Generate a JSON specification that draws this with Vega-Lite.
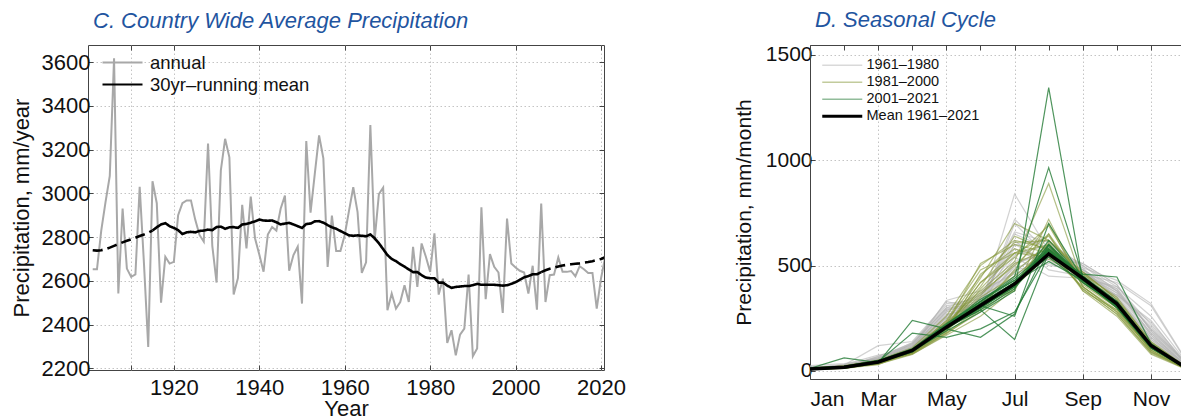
{
  "$schema": "https://vega.github.io/schema/vega-lite/v6.json",
  "padding": {"left": 9, "top": 8, "right": 0, "bottom": 0},
  "background": "white",
  "config": {
    "font": "Liberation Sans",
    "view": {"stroke": "#444", "strokeWidth": 1},
    "axis": {
      "labelFont": "Liberation Sans",
      "titleFont": "Liberation Sans",
      "labelColor": "#111",
      "titleColor": "#111",
      "titleFontWeight": "normal",
      "gridColor": "#c4c4c4",
      "gridDash": [1.5, 2.5],
      "gridWidth": 1,
      "tickColor": "#444",
      "domainColor": "#444",
      "tickSize": -5
    },
    "title": {
      "font": "Liberation Sans",
      "fontStyle": "italic",
      "fontWeight": "normal",
      "color": "#1f55a0",
      "fontSize": 22,
      "anchor": "start",
      "frame": "group",
      "dx": 5,
      "offset": 12
    },
    "legend": {
      "labelFont": "Liberation Sans",
      "labelColor": "#111",
      "padding": 0,
      "title": null
    }
  },
  "datasets": {
    "annual": [
      {"year": 1901, "precip": 2653}, {"year": 1902, "precip": 2653}, {"year": 1903, "precip": 2830}, {"year": 1904, "precip": 2960},
      {"year": 1905, "precip": 3080}, {"year": 1906, "precip": 3618}, {"year": 1907, "precip": 2542}, {"year": 1908, "precip": 2931},
      {"year": 1909, "precip": 2656}, {"year": 1910, "precip": 2618}, {"year": 1911, "precip": 2629}, {"year": 1912, "precip": 3030},
      {"year": 1913, "precip": 2680}, {"year": 1914, "precip": 2297}, {"year": 1915, "precip": 3056}, {"year": 1916, "precip": 2955},
      {"year": 1917, "precip": 2500}, {"year": 1918, "precip": 2710}, {"year": 1919, "precip": 2679}, {"year": 1920, "precip": 2687},
      {"year": 1921, "precip": 2900}, {"year": 1922, "precip": 2955}, {"year": 1923, "precip": 2968}, {"year": 1924, "precip": 2968},
      {"year": 1925, "precip": 2880}, {"year": 1926, "precip": 2810}, {"year": 1927, "precip": 2780}, {"year": 1928, "precip": 3228},
      {"year": 1929, "precip": 2760}, {"year": 1930, "precip": 2592}, {"year": 1931, "precip": 3105}, {"year": 1932, "precip": 3250},
      {"year": 1933, "precip": 3165}, {"year": 1934, "precip": 2538}, {"year": 1935, "precip": 2612}, {"year": 1936, "precip": 2948},
      {"year": 1937, "precip": 2748}, {"year": 1938, "precip": 2985}, {"year": 1939, "precip": 2795}, {"year": 1940, "precip": 2720},
      {"year": 1941, "precip": 2642}, {"year": 1942, "precip": 2812}, {"year": 1943, "precip": 2846}, {"year": 1944, "precip": 2830},
      {"year": 1945, "precip": 2930}, {"year": 1946, "precip": 2990}, {"year": 1947, "precip": 2646}, {"year": 1948, "precip": 2718},
      {"year": 1949, "precip": 2756}, {"year": 1950, "precip": 2496}, {"year": 1951, "precip": 3240}, {"year": 1952, "precip": 2912},
      {"year": 1953, "precip": 3090}, {"year": 1954, "precip": 3265}, {"year": 1955, "precip": 3160}, {"year": 1956, "precip": 2664},
      {"year": 1957, "precip": 2898}, {"year": 1958, "precip": 2736}, {"year": 1959, "precip": 2736}, {"year": 1960, "precip": 2810},
      {"year": 1961, "precip": 2920}, {"year": 1962, "precip": 3028}, {"year": 1963, "precip": 2916}, {"year": 1964, "precip": 2636},
      {"year": 1965, "precip": 2685}, {"year": 1966, "precip": 3313}, {"year": 1967, "precip": 2786}, {"year": 1968, "precip": 2997},
      {"year": 1969, "precip": 3026}, {"year": 1970, "precip": 2465}, {"year": 1971, "precip": 2542}, {"year": 1972, "precip": 2473},
      {"year": 1973, "precip": 2503}, {"year": 1974, "precip": 2580}, {"year": 1975, "precip": 2503}, {"year": 1976, "precip": 2756},
      {"year": 1977, "precip": 2572}, {"year": 1978, "precip": 2771}, {"year": 1979, "precip": 2710}, {"year": 1980, "precip": 2641},
      {"year": 1981, "precip": 2817}, {"year": 1982, "precip": 2537}, {"year": 1983, "precip": 2610}, {"year": 1984, "precip": 2316},
      {"year": 1985, "precip": 2374}, {"year": 1986, "precip": 2259}, {"year": 1987, "precip": 2354}, {"year": 1988, "precip": 2381},
      {"year": 1989, "precip": 2629}, {"year": 1990, "precip": 2255}, {"year": 1991, "precip": 2290}, {"year": 1992, "precip": 2936},
      {"year": 1993, "precip": 2516}, {"year": 1994, "precip": 2722}, {"year": 1995, "precip": 2664}, {"year": 1996, "precip": 2638},
      {"year": 1997, "precip": 2453}, {"year": 1998, "precip": 2885}, {"year": 1999, "precip": 2679}, {"year": 2000, "precip": 2661},
      {"year": 2001, "precip": 2646}, {"year": 2002, "precip": 2638}, {"year": 2003, "precip": 2542}, {"year": 2004, "precip": 2669},
      {"year": 2005, "precip": 2468}, {"year": 2006, "precip": 2954}, {"year": 2007, "precip": 2503}, {"year": 2008, "precip": 2626},
      {"year": 2009, "precip": 2629}, {"year": 2010, "precip": 2707}, {"year": 2011, "precip": 2641}, {"year": 2012, "precip": 2641},
      {"year": 2013, "precip": 2645}, {"year": 2014, "precip": 2621}, {"year": 2015, "precip": 2667}, {"year": 2016, "precip": 2653},
      {"year": 2017, "precip": 2636}, {"year": 2018, "precip": 2636}, {"year": 2019, "precip": 2473}, {"year": 2020, "precip": 2611},
      {"year": 2021, "precip": 2710}
    ],
    "runmean": [
      {"year": 1901, "precip": 2740, "seg": "start"}, {"year": 1902, "precip": 2738, "seg": "start"}, {"year": 1903, "precip": 2740, "seg": "start"},
      {"year": 1904, "precip": 2745, "seg": "start"}, {"year": 1905, "precip": 2752, "seg": "start"}, {"year": 1906, "precip": 2760, "seg": "start"},
      {"year": 1907, "precip": 2768, "seg": "start"}, {"year": 1908, "precip": 2776, "seg": "start"}, {"year": 1909, "precip": 2783, "seg": "start"},
      {"year": 1910, "precip": 2790, "seg": "start"}, {"year": 1911, "precip": 2797, "seg": "start"}, {"year": 1912, "precip": 2805, "seg": "start"},
      {"year": 1913, "precip": 2812, "seg": "start"}, {"year": 1914, "precip": 2820, "seg": "start"}, {"year": 1915, "precip": 2830, "seg": "start"},
      {"year": 1915, "precip": 2830, "seg": "full"}, {"year": 1916, "precip": 2845, "seg": "full"}, {"year": 1917, "precip": 2858, "seg": "full"},
      {"year": 1918, "precip": 2864, "seg": "full"}, {"year": 1919, "precip": 2850, "seg": "full"}, {"year": 1920, "precip": 2842, "seg": "full"},
      {"year": 1921, "precip": 2832, "seg": "full"}, {"year": 1922, "precip": 2814, "seg": "full"}, {"year": 1923, "precip": 2822, "seg": "full"},
      {"year": 1924, "precip": 2824, "seg": "full"}, {"year": 1925, "precip": 2822, "seg": "full"}, {"year": 1926, "precip": 2828, "seg": "full"},
      {"year": 1927, "precip": 2830, "seg": "full"}, {"year": 1928, "precip": 2834, "seg": "full"}, {"year": 1929, "precip": 2832, "seg": "full"},
      {"year": 1930, "precip": 2846, "seg": "full"}, {"year": 1931, "precip": 2848, "seg": "full"}, {"year": 1932, "precip": 2838, "seg": "full"},
      {"year": 1933, "precip": 2845, "seg": "full"}, {"year": 1934, "precip": 2846, "seg": "full"}, {"year": 1935, "precip": 2842, "seg": "full"},
      {"year": 1936, "precip": 2858, "seg": "full"}, {"year": 1937, "precip": 2860, "seg": "full"}, {"year": 1938, "precip": 2866, "seg": "full"},
      {"year": 1939, "precip": 2872, "seg": "full"}, {"year": 1940, "precip": 2880, "seg": "full"}, {"year": 1941, "precip": 2876, "seg": "full"},
      {"year": 1942, "precip": 2875, "seg": "full"}, {"year": 1943, "precip": 2876, "seg": "full"}, {"year": 1944, "precip": 2868, "seg": "full"},
      {"year": 1945, "precip": 2858, "seg": "full"}, {"year": 1946, "precip": 2862, "seg": "full"}, {"year": 1947, "precip": 2865, "seg": "full"},
      {"year": 1948, "precip": 2858, "seg": "full"}, {"year": 1949, "precip": 2850, "seg": "full"}, {"year": 1950, "precip": 2842, "seg": "full"},
      {"year": 1951, "precip": 2860, "seg": "full"}, {"year": 1952, "precip": 2862, "seg": "full"}, {"year": 1953, "precip": 2872, "seg": "full"},
      {"year": 1954, "precip": 2873, "seg": "full"}, {"year": 1955, "precip": 2866, "seg": "full"}, {"year": 1956, "precip": 2855, "seg": "full"},
      {"year": 1957, "precip": 2845, "seg": "full"}, {"year": 1958, "precip": 2838, "seg": "full"}, {"year": 1959, "precip": 2828, "seg": "full"},
      {"year": 1960, "precip": 2818, "seg": "full"}, {"year": 1961, "precip": 2808, "seg": "full"}, {"year": 1962, "precip": 2806, "seg": "full"},
      {"year": 1963, "precip": 2808, "seg": "full"}, {"year": 1964, "precip": 2806, "seg": "full"}, {"year": 1965, "precip": 2804, "seg": "full"},
      {"year": 1966, "precip": 2812, "seg": "full"}, {"year": 1967, "precip": 2795, "seg": "full"}, {"year": 1968, "precip": 2772, "seg": "full"},
      {"year": 1969, "precip": 2745, "seg": "full"}, {"year": 1970, "precip": 2718, "seg": "full"}, {"year": 1971, "precip": 2700, "seg": "full"},
      {"year": 1972, "precip": 2690, "seg": "full"}, {"year": 1973, "precip": 2676, "seg": "full"}, {"year": 1974, "precip": 2665, "seg": "full"},
      {"year": 1975, "precip": 2652, "seg": "full"}, {"year": 1976, "precip": 2640, "seg": "full"}, {"year": 1977, "precip": 2640, "seg": "full"},
      {"year": 1978, "precip": 2626, "seg": "full"}, {"year": 1979, "precip": 2615, "seg": "full"}, {"year": 1980, "precip": 2612, "seg": "full"},
      {"year": 1981, "precip": 2612, "seg": "full"}, {"year": 1982, "precip": 2592, "seg": "full"}, {"year": 1983, "precip": 2592, "seg": "full"},
      {"year": 1984, "precip": 2578, "seg": "full"}, {"year": 1985, "precip": 2568, "seg": "full"}, {"year": 1986, "precip": 2572, "seg": "full"},
      {"year": 1987, "precip": 2574, "seg": "full"}, {"year": 1988, "precip": 2576, "seg": "full"}, {"year": 1989, "precip": 2576, "seg": "full"},
      {"year": 1990, "precip": 2580, "seg": "full"}, {"year": 1991, "precip": 2586, "seg": "full"}, {"year": 1992, "precip": 2582, "seg": "full"},
      {"year": 1993, "precip": 2582, "seg": "full"}, {"year": 1994, "precip": 2582, "seg": "full"}, {"year": 1995, "precip": 2582, "seg": "full"},
      {"year": 1996, "precip": 2580, "seg": "full"}, {"year": 1997, "precip": 2578, "seg": "full"}, {"year": 1998, "precip": 2580, "seg": "full"},
      {"year": 1999, "precip": 2586, "seg": "full"}, {"year": 2000, "precip": 2594, "seg": "full"}, {"year": 2001, "precip": 2605, "seg": "full"},
      {"year": 2002, "precip": 2616, "seg": "full"}, {"year": 2003, "precip": 2622, "seg": "full"}, {"year": 2004, "precip": 2630, "seg": "full"},
      {"year": 2005, "precip": 2630, "seg": "full"}, {"year": 2006, "precip": 2640, "seg": "full"},
      {"year": 2006, "precip": 2640, "seg": "end"}, {"year": 2007, "precip": 2648, "seg": "end"}, {"year": 2008, "precip": 2655, "seg": "end"},
      {"year": 2009, "precip": 2660, "seg": "end"}, {"year": 2010, "precip": 2666, "seg": "end"}, {"year": 2011, "precip": 2670, "seg": "end"},
      {"year": 2012, "precip": 2673, "seg": "end"}, {"year": 2013, "precip": 2676, "seg": "end"}, {"year": 2014, "precip": 2678, "seg": "end"},
      {"year": 2015, "precip": 2680, "seg": "end"}, {"year": 2016, "precip": 2683, "seg": "end"}, {"year": 2017, "precip": 2686, "seg": "end"},
      {"year": 2018, "precip": 2690, "seg": "end"}, {"year": 2019, "precip": 2695, "seg": "end"}, {"year": 2020, "precip": 2700, "seg": "end"},
      {"year": 2021, "precip": 2708, "seg": "end"}
    ],
    "p1": [
      {"yr":1961,"m":1,"v":12},{"yr":1961,"m":2,"v":20},{"yr":1961,"m":3,"v":55},{"yr":1961,"m":4,"v":110},{"yr":1961,"m":5,"v":250},{"yr":1961,"m":6,"v":330},{"yr":1961,"m":7,"v":520},{"yr":1961,"m":8,"v":560},{"yr":1961,"m":9,"v":480},{"yr":1961,"m":10,"v":380},{"yr":1961,"m":11,"v":180},{"yr":1961,"m":12,"v":30},
      {"yr":1962,"m":1,"v":8},{"yr":1962,"m":2,"v":15},{"yr":1962,"m":3,"v":40},{"yr":1962,"m":4,"v":105},{"yr":1962,"m":5,"v":230},{"yr":1962,"m":6,"v":350},{"yr":1962,"m":7,"v":600},{"yr":1962,"m":8,"v":520},{"yr":1962,"m":9,"v":470},{"yr":1962,"m":10,"v":360},{"yr":1962,"m":11,"v":160},{"yr":1962,"m":12,"v":25},
      {"yr":1963,"m":1,"v":15},{"yr":1963,"m":2,"v":25},{"yr":1963,"m":3,"v":60},{"yr":1963,"m":4,"v":120},{"yr":1963,"m":5,"v":280},{"yr":1963,"m":6,"v":300},{"yr":1963,"m":7,"v":450},{"yr":1963,"m":8,"v":580},{"yr":1963,"m":9,"v":500},{"yr":1963,"m":10,"v":400},{"yr":1963,"m":11,"v":220},{"yr":1963,"m":12,"v":40},
      {"yr":1964,"m":1,"v":10},{"yr":1964,"m":2,"v":30},{"yr":1964,"m":3,"v":50},{"yr":1964,"m":4,"v":95},{"yr":1964,"m":5,"v":240},{"yr":1964,"m":6,"v":280},{"yr":1964,"m":7,"v":700},{"yr":1964,"m":8,"v":540},{"yr":1964,"m":9,"v":430},{"yr":1964,"m":10,"v":350},{"yr":1964,"m":11,"v":150},{"yr":1964,"m":12,"v":20},
      {"yr":1965,"m":1,"v":20},{"yr":1965,"m":2,"v":18},{"yr":1965,"m":3,"v":45},{"yr":1965,"m":4,"v":130},{"yr":1965,"m":5,"v":300},{"yr":1965,"m":6,"v":320},{"yr":1965,"m":7,"v":480},{"yr":1965,"m":8,"v":510},{"yr":1965,"m":9,"v":460},{"yr":1965,"m":10,"v":420},{"yr":1965,"m":11,"v":310},{"yr":1965,"m":12,"v":55},
      {"yr":1966,"m":1,"v":5},{"yr":1966,"m":2,"v":22},{"yr":1966,"m":3,"v":65},{"yr":1966,"m":4,"v":100},{"yr":1966,"m":5,"v":260},{"yr":1966,"m":6,"v":360},{"yr":1966,"m":7,"v":550},{"yr":1966,"m":8,"v":600},{"yr":1966,"m":9,"v":490},{"yr":1966,"m":10,"v":330},{"yr":1966,"m":11,"v":140},{"yr":1966,"m":12,"v":30},
      {"yr":1967,"m":1,"v":12},{"yr":1967,"m":2,"v":28},{"yr":1967,"m":3,"v":120},{"yr":1967,"m":4,"v":140},{"yr":1967,"m":5,"v":320},{"yr":1967,"m":6,"v":340},{"yr":1967,"m":7,"v":620},{"yr":1967,"m":8,"v":480},{"yr":1967,"m":9,"v":450},{"yr":1967,"m":10,"v":390},{"yr":1967,"m":11,"v":200},{"yr":1967,"m":12,"v":45},
      {"yr":1968,"m":1,"v":18},{"yr":1968,"m":2,"v":15},{"yr":1968,"m":3,"v":50},{"yr":1968,"m":4,"v":115},{"yr":1968,"m":5,"v":270},{"yr":1968,"m":6,"v":300},{"yr":1968,"m":7,"v":840},{"yr":1968,"m":8,"v":570},{"yr":1968,"m":9,"v":470},{"yr":1968,"m":10,"v":370},{"yr":1968,"m":11,"v":170},{"yr":1968,"m":12,"v":30},
      {"yr":1969,"m":1,"v":10},{"yr":1969,"m":2,"v":20},{"yr":1969,"m":3,"v":70},{"yr":1969,"m":4,"v":125},{"yr":1969,"m":5,"v":290},{"yr":1969,"m":6,"v":310},{"yr":1969,"m":7,"v":500},{"yr":1969,"m":8,"v":590},{"yr":1969,"m":9,"v":420},{"yr":1969,"m":10,"v":360},{"yr":1969,"m":11,"v":240},{"yr":1969,"m":12,"v":35},
      {"yr":1970,"m":1,"v":25},{"yr":1970,"m":2,"v":35},{"yr":1970,"m":3,"v":55},{"yr":1970,"m":4,"v":105},{"yr":1970,"m":5,"v":335},{"yr":1970,"m":6,"v":380},{"yr":1970,"m":7,"v":460},{"yr":1970,"m":8,"v":530},{"yr":1970,"m":9,"v":510},{"yr":1970,"m":10,"v":410},{"yr":1970,"m":11,"v":190},{"yr":1970,"m":12,"v":40},
      {"yr":1971,"m":1,"v":8},{"yr":1971,"m":2,"v":12},{"yr":1971,"m":3,"v":48},{"yr":1971,"m":4,"v":110},{"yr":1971,"m":5,"v":250},{"yr":1971,"m":6,"v":290},{"yr":1971,"m":7,"v":720},{"yr":1971,"m":8,"v":560},{"yr":1971,"m":9,"v":480},{"yr":1971,"m":10,"v":350},{"yr":1971,"m":11,"v":160},{"yr":1971,"m":12,"v":25},
      {"yr":1972,"m":1,"v":14},{"yr":1972,"m":2,"v":25},{"yr":1972,"m":3,"v":60},{"yr":1972,"m":4,"v":135},{"yr":1972,"m":5,"v":310},{"yr":1972,"m":6,"v":330},{"yr":1972,"m":7,"v":540},{"yr":1972,"m":8,"v":450},{"yr":1972,"m":9,"v":440},{"yr":1972,"m":10,"v":400},{"yr":1972,"m":11,"v":260},{"yr":1972,"m":12,"v":50},
      {"yr":1973,"m":1,"v":9},{"yr":1973,"m":2,"v":18},{"yr":1973,"m":3,"v":52},{"yr":1973,"m":4,"v":118},{"yr":1973,"m":5,"v":280},{"yr":1973,"m":6,"v":350},{"yr":1973,"m":7,"v":660},{"yr":1973,"m":8,"v":610},{"yr":1973,"m":9,"v":500},{"yr":1973,"m":10,"v":380},{"yr":1973,"m":11,"v":180},{"yr":1973,"m":12,"v":30},
      {"yr":1974,"m":1,"v":16},{"yr":1974,"m":2,"v":30},{"yr":1974,"m":3,"v":75},{"yr":1974,"m":4,"v":100},{"yr":1974,"m":5,"v":240},{"yr":1974,"m":6,"v":300},{"yr":1974,"m":7,"v":420},{"yr":1974,"m":8,"v":580},{"yr":1974,"m":9,"v":470},{"yr":1974,"m":10,"v":340},{"yr":1974,"m":11,"v":150},{"yr":1974,"m":12,"v":35},
      {"yr":1975,"m":1,"v":11},{"yr":1975,"m":2,"v":20},{"yr":1975,"m":3,"v":58},{"yr":1975,"m":4,"v":128},{"yr":1975,"m":5,"v":300},{"yr":1975,"m":6,"v":360},{"yr":1975,"m":7,"v":580},{"yr":1975,"m":8,"v":500},{"yr":1975,"m":9,"v":490},{"yr":1975,"m":10,"v":430},{"yr":1975,"m":11,"v":320},{"yr":1975,"m":12,"v":60},
      {"yr":1976,"m":1,"v":20},{"yr":1976,"m":2,"v":15},{"yr":1976,"m":3,"v":45},{"yr":1976,"m":4,"v":112},{"yr":1976,"m":5,"v":265},{"yr":1976,"m":6,"v":310},{"yr":1976,"m":7,"v":510},{"yr":1976,"m":8,"v":560},{"yr":1976,"m":9,"v":460},{"yr":1976,"m":10,"v":370},{"yr":1976,"m":11,"v":210},{"yr":1976,"m":12,"v":40},
      {"yr":1977,"m":1,"v":7},{"yr":1977,"m":2,"v":26},{"yr":1977,"m":3,"v":62},{"yr":1977,"m":4,"v":122},{"yr":1977,"m":5,"v":330},{"yr":1977,"m":6,"v":290},{"yr":1977,"m":7,"v":600},{"yr":1977,"m":8,"v":620},{"yr":1977,"m":9,"v":480},{"yr":1977,"m":10,"v":390},{"yr":1977,"m":11,"v":170},{"yr":1977,"m":12,"v":30},
      {"yr":1978,"m":1,"v":13},{"yr":1978,"m":2,"v":22},{"yr":1978,"m":3,"v":55},{"yr":1978,"m":4,"v":108},{"yr":1978,"m":5,"v":255},{"yr":1978,"m":6,"v":340},{"yr":1978,"m":7,"v":490},{"yr":1978,"m":8,"v":540},{"yr":1978,"m":9,"v":450},{"yr":1978,"m":10,"v":360},{"yr":1978,"m":11,"v":230},{"yr":1978,"m":12,"v":45},
      {"yr":1979,"m":1,"v":10},{"yr":1979,"m":2,"v":18},{"yr":1979,"m":3,"v":68},{"yr":1979,"m":4,"v":132},{"yr":1979,"m":5,"v":295},{"yr":1979,"m":6,"v":320},{"yr":1979,"m":7,"v":650},{"yr":1979,"m":8,"v":580},{"yr":1979,"m":9,"v":510},{"yr":1979,"m":10,"v":410},{"yr":1979,"m":11,"v":190},{"yr":1979,"m":12,"v":35},
      {"yr":1980,"m":1,"v":15},{"yr":1980,"m":2,"v":24},{"yr":1980,"m":3,"v":50},{"yr":1980,"m":4,"v":115},{"yr":1980,"m":5,"v":285},{"yr":1980,"m":6,"v":370},{"yr":1980,"m":7,"v":470},{"yr":1980,"m":8,"v":600},{"yr":1980,"m":9,"v":470},{"yr":1980,"m":10,"v":380},{"yr":1980,"m":11,"v":200},{"yr":1980,"m":12,"v":40}
    ],
    "p2": [
      {"yr":1981,"m":1,"v":8},{"yr":1981,"m":2,"v":15},{"yr":1981,"m":3,"v":35},{"yr":1981,"m":4,"v":90},{"yr":1981,"m":5,"v":200},{"yr":1981,"m":6,"v":420},{"yr":1981,"m":7,"v":560},{"yr":1981,"m":8,"v":600},{"yr":1981,"m":9,"v":430},{"yr":1981,"m":10,"v":300},{"yr":1981,"m":11,"v":110},{"yr":1981,"m":12,"v":15},
      {"yr":1982,"m":1,"v":12},{"yr":1982,"m":2,"v":20},{"yr":1982,"m":3,"v":40},{"yr":1982,"m":4,"v":85},{"yr":1982,"m":5,"v":180},{"yr":1982,"m":6,"v":300},{"yr":1982,"m":7,"v":480},{"yr":1982,"m":8,"v":700},{"yr":1982,"m":9,"v":400},{"yr":1982,"m":10,"v":280},{"yr":1982,"m":11,"v":90},{"yr":1982,"m":12,"v":12},
      {"yr":1983,"m":1,"v":6},{"yr":1983,"m":2,"v":12},{"yr":1983,"m":3,"v":30},{"yr":1983,"m":4,"v":95},{"yr":1983,"m":5,"v":220},{"yr":1983,"m":6,"v":510},{"yr":1983,"m":7,"v":600},{"yr":1983,"m":8,"v":560},{"yr":1983,"m":9,"v":450},{"yr":1983,"m":10,"v":320},{"yr":1983,"m":11,"v":120},{"yr":1983,"m":12,"v":18},
      {"yr":1984,"m":1,"v":10},{"yr":1984,"m":2,"v":18},{"yr":1984,"m":3,"v":45},{"yr":1984,"m":4,"v":80},{"yr":1984,"m":5,"v":170},{"yr":1984,"m":6,"v":260},{"yr":1984,"m":7,"v":390},{"yr":1984,"m":8,"v":650},{"yr":1984,"m":9,"v":380},{"yr":1984,"m":10,"v":290},{"yr":1984,"m":11,"v":100},{"yr":1984,"m":12,"v":10},
      {"yr":1985,"m":1,"v":14},{"yr":1985,"m":2,"v":22},{"yr":1985,"m":3,"v":38},{"yr":1985,"m":4,"v":100},{"yr":1985,"m":5,"v":230},{"yr":1985,"m":6,"v":380},{"yr":1985,"m":7,"v":520},{"yr":1985,"m":8,"v":890},{"yr":1985,"m":9,"v":420},{"yr":1985,"m":10,"v":310},{"yr":1985,"m":11,"v":130},{"yr":1985,"m":12,"v":20},
      {"yr":1986,"m":1,"v":9},{"yr":1986,"m":2,"v":16},{"yr":1986,"m":3,"v":42},{"yr":1986,"m":4,"v":92},{"yr":1986,"m":5,"v":210},{"yr":1986,"m":6,"v":440},{"yr":1986,"m":7,"v":700},{"yr":1986,"m":8,"v":620},{"yr":1986,"m":9,"v":460},{"yr":1986,"m":10,"v":330},{"yr":1986,"m":11,"v":115},{"yr":1986,"m":12,"v":15},
      {"yr":1987,"m":1,"v":11},{"yr":1987,"m":2,"v":14},{"yr":1987,"m":3,"v":36},{"yr":1987,"m":4,"v":88},{"yr":1987,"m":5,"v":190},{"yr":1987,"m":6,"v":350},{"yr":1987,"m":7,"v":450},{"yr":1987,"m":8,"v":580},{"yr":1987,"m":9,"v":390},{"yr":1987,"m":10,"v":270},{"yr":1987,"m":11,"v":85},{"yr":1987,"m":12,"v":12},
      {"yr":1988,"m":1,"v":7},{"yr":1988,"m":2,"v":20},{"yr":1988,"m":3,"v":48},{"yr":1988,"m":4,"v":105},{"yr":1988,"m":5,"v":240},{"yr":1988,"m":6,"v":480},{"yr":1988,"m":7,"v":560},{"yr":1988,"m":8,"v":540},{"yr":1988,"m":9,"v":470},{"yr":1988,"m":10,"v":340},{"yr":1988,"m":11,"v":140},{"yr":1988,"m":12,"v":22},
      {"yr":1989,"m":1,"v":13},{"yr":1989,"m":2,"v":18},{"yr":1989,"m":3,"v":33},{"yr":1989,"m":4,"v":78},{"yr":1989,"m":5,"v":175},{"yr":1989,"m":6,"v":290},{"yr":1989,"m":7,"v":420},{"yr":1989,"m":8,"v":610},{"yr":1989,"m":9,"v":410},{"yr":1989,"m":10,"v":300},{"yr":1989,"m":11,"v":95},{"yr":1989,"m":12,"v":14},
      {"yr":1990,"m":1,"v":10},{"yr":1990,"m":2,"v":25},{"yr":1990,"m":3,"v":50},{"yr":1990,"m":4,"v":98},{"yr":1990,"m":5,"v":215},{"yr":1990,"m":6,"v":400},{"yr":1990,"m":7,"v":640},{"yr":1990,"m":8,"v":570},{"yr":1990,"m":9,"v":440},{"yr":1990,"m":10,"v":320},{"yr":1990,"m":11,"v":125},{"yr":1990,"m":12,"v":18},
      {"yr":1991,"m":1,"v":8},{"yr":1991,"m":2,"v":12},{"yr":1991,"m":3,"v":40},{"yr":1991,"m":4,"v":90},{"yr":1991,"m":5,"v":200},{"yr":1991,"m":6,"v":330},{"yr":1991,"m":7,"v":380},{"yr":1991,"m":8,"v":720},{"yr":1991,"m":9,"v":400},{"yr":1991,"m":10,"v":280},{"yr":1991,"m":11,"v":105},{"yr":1991,"m":12,"v":16},
      {"yr":1992,"m":1,"v":12},{"yr":1992,"m":2,"v":16},{"yr":1992,"m":3,"v":44},{"yr":1992,"m":4,"v":84},{"yr":1992,"m":5,"v":185},{"yr":1992,"m":6,"v":460},{"yr":1992,"m":7,"v":580},{"yr":1992,"m":8,"v":530},{"yr":1992,"m":9,"v":450},{"yr":1992,"m":10,"v":310},{"yr":1992,"m":11,"v":110},{"yr":1992,"m":12,"v":12},
      {"yr":1993,"m":1,"v":6},{"yr":1993,"m":2,"v":18},{"yr":1993,"m":3,"v":35},{"yr":1993,"m":4,"v":96},{"yr":1993,"m":5,"v":225},{"yr":1993,"m":6,"v":370},{"yr":1993,"m":7,"v":500},{"yr":1993,"m":8,"v":650},{"yr":1993,"m":9,"v":430},{"yr":1993,"m":10,"v":330},{"yr":1993,"m":11,"v":120},{"yr":1993,"m":12,"v":20},
      {"yr":1994,"m":1,"v":15},{"yr":1994,"m":2,"v":22},{"yr":1994,"m":3,"v":52},{"yr":1994,"m":4,"v":110},{"yr":1994,"m":5,"v":260},{"yr":1994,"m":6,"v":500},{"yr":1994,"m":7,"v":620},{"yr":1994,"m":8,"v":580},{"yr":1994,"m":9,"v":460},{"yr":1994,"m":10,"v":350},{"yr":1994,"m":11,"v":135},{"yr":1994,"m":12,"v":24},
      {"yr":1995,"m":1,"v":9},{"yr":1995,"m":2,"v":14},{"yr":1995,"m":3,"v":38},{"yr":1995,"m":4,"v":86},{"yr":1995,"m":5,"v":195},{"yr":1995,"m":6,"v":310},{"yr":1995,"m":7,"v":470},{"yr":1995,"m":8,"v":600},{"yr":1995,"m":9,"v":380},{"yr":1995,"m":10,"v":260},{"yr":1995,"m":11,"v":80},{"yr":1995,"m":12,"v":10},
      {"yr":1996,"m":1,"v":11},{"yr":1996,"m":2,"v":20},{"yr":1996,"m":3,"v":46},{"yr":1996,"m":4,"v":94},{"yr":1996,"m":5,"v":205},{"yr":1996,"m":6,"v":420},{"yr":1996,"m":7,"v":540},{"yr":1996,"m":8,"v":690},{"yr":1996,"m":9,"v":420},{"yr":1996,"m":10,"v":300},{"yr":1996,"m":11,"v":115},{"yr":1996,"m":12,"v":15},
      {"yr":1997,"m":1,"v":7},{"yr":1997,"m":2,"v":16},{"yr":1997,"m":3,"v":34},{"yr":1997,"m":4,"v":82},{"yr":1997,"m":5,"v":180},{"yr":1997,"m":6,"v":280},{"yr":1997,"m":7,"v":400},{"yr":1997,"m":8,"v":550},{"yr":1997,"m":9,"v":400},{"yr":1997,"m":10,"v":290},{"yr":1997,"m":11,"v":100},{"yr":1997,"m":12,"v":12},
      {"yr":1998,"m":1,"v":13},{"yr":1998,"m":2,"v":24},{"yr":1998,"m":3,"v":48},{"yr":1998,"m":4,"v":102},{"yr":1998,"m":5,"v":235},{"yr":1998,"m":6,"v":450},{"yr":1998,"m":7,"v":610},{"yr":1998,"m":8,"v":620},{"yr":1998,"m":9,"v":470},{"yr":1998,"m":10,"v":340},{"yr":1998,"m":11,"v":130},{"yr":1998,"m":12,"v":20},
      {"yr":1999,"m":1,"v":10},{"yr":1999,"m":2,"v":18},{"yr":1999,"m":3,"v":42},{"yr":1999,"m":4,"v":92},{"yr":1999,"m":5,"v":210},{"yr":1999,"m":6,"v":360},{"yr":1999,"m":7,"v":510},{"yr":1999,"m":8,"v":580},{"yr":1999,"m":9,"v":390},{"yr":1999,"m":10,"v":270},{"yr":1999,"m":11,"v":90},{"yr":1999,"m":12,"v":14},
      {"yr":2000,"m":1,"v":8},{"yr":2000,"m":2,"v":14},{"yr":2000,"m":3,"v":36},{"yr":2000,"m":4,"v":88},{"yr":2000,"m":5,"v":195},{"yr":2000,"m":6,"v":390},{"yr":2000,"m":7,"v":560},{"yr":2000,"m":8,"v":640},{"yr":2000,"m":9,"v":430},{"yr":2000,"m":10,"v":310},{"yr":2000,"m":11,"v":110},{"yr":2000,"m":12,"v":16}
    ],
    "p3": [
      {"yr":2001,"m":1,"v":10},{"yr":2001,"m":2,"v":20},{"yr":2001,"m":3,"v":45},{"yr":2001,"m":4,"v":100},{"yr":2001,"m":5,"v":210},{"yr":2001,"m":6,"v":300},{"yr":2001,"m":7,"v":400},{"yr":2001,"m":8,"v":560},{"yr":2001,"m":9,"v":440},{"yr":2001,"m":10,"v":320},{"yr":2001,"m":11,"v":120},{"yr":2001,"m":12,"v":18},
      {"yr":2002,"m":1,"v":12},{"yr":2002,"m":2,"v":62},{"yr":2002,"m":3,"v":40},{"yr":2002,"m":4,"v":95},{"yr":2002,"m":5,"v":190},{"yr":2002,"m":6,"v":280},{"yr":2002,"m":7,"v":380},{"yr":2002,"m":8,"v":1345},{"yr":2002,"m":9,"v":430},{"yr":2002,"m":10,"v":300},{"yr":2002,"m":11,"v":110},{"yr":2002,"m":12,"v":15},
      {"yr":2003,"m":1,"v":8},{"yr":2003,"m":2,"v":15},{"yr":2003,"m":3,"v":38},{"yr":2003,"m":4,"v":240},{"yr":2003,"m":5,"v":200},{"yr":2003,"m":6,"v":160},{"yr":2003,"m":7,"v":270},{"yr":2003,"m":8,"v":600},{"yr":2003,"m":9,"v":420},{"yr":2003,"m":10,"v":310},{"yr":2003,"m":11,"v":115},{"yr":2003,"m":12,"v":16},
      {"yr":2004,"m":1,"v":14},{"yr":2004,"m":2,"v":22},{"yr":2004,"m":3,"v":50},{"yr":2004,"m":4,"v":105},{"yr":2004,"m":5,"v":225},{"yr":2004,"m":6,"v":330},{"yr":2004,"m":7,"v":450},{"yr":2004,"m":8,"v":965},{"yr":2004,"m":9,"v":450},{"yr":2004,"m":10,"v":330},{"yr":2004,"m":11,"v":125},{"yr":2004,"m":12,"v":20},
      {"yr":2005,"m":1,"v":9},{"yr":2005,"m":2,"v":18},{"yr":2005,"m":3,"v":42},{"yr":2005,"m":4,"v":90},{"yr":2005,"m":5,"v":205},{"yr":2005,"m":6,"v":290},{"yr":2005,"m":7,"v":150},{"yr":2005,"m":8,"v":560},{"yr":2005,"m":9,"v":460},{"yr":2005,"m":10,"v":446},{"yr":2005,"m":11,"v":130},{"yr":2005,"m":12,"v":18},
      {"yr":2006,"m":1,"v":11},{"yr":2006,"m":2,"v":16},{"yr":2006,"m":3,"v":44},{"yr":2006,"m":4,"v":98},{"yr":2006,"m":5,"v":215},{"yr":2006,"m":6,"v":320},{"yr":2006,"m":7,"v":420},{"yr":2006,"m":8,"v":520},{"yr":2006,"m":9,"v":430},{"yr":2006,"m":10,"v":310},{"yr":2006,"m":11,"v":115},{"yr":2006,"m":12,"v":15},
      {"yr":2007,"m":1,"v":10},{"yr":2007,"m":2,"v":20},{"yr":2007,"m":3,"v":46},{"yr":2007,"m":4,"v":100},{"yr":2007,"m":5,"v":200},{"yr":2007,"m":6,"v":310},{"yr":2007,"m":7,"v":260},{"yr":2007,"m":8,"v":700},{"yr":2007,"m":9,"v":440},{"yr":2007,"m":10,"v":300},{"yr":2007,"m":11,"v":110},{"yr":2007,"m":12,"v":16},
      {"yr":2008,"m":1,"v":12},{"yr":2008,"m":2,"v":18},{"yr":2008,"m":3,"v":40},{"yr":2008,"m":4,"v":94},{"yr":2008,"m":5,"v":210},{"yr":2008,"m":6,"v":300},{"yr":2008,"m":7,"v":410},{"yr":2008,"m":8,"v":580},{"yr":2008,"m":9,"v":450},{"yr":2008,"m":10,"v":320},{"yr":2008,"m":11,"v":120},{"yr":2008,"m":12,"v":18},
      {"yr":2009,"m":1,"v":8},{"yr":2009,"m":2,"v":22},{"yr":2009,"m":3,"v":48},{"yr":2009,"m":4,"v":102},{"yr":2009,"m":5,"v":220},{"yr":2009,"m":6,"v":340},{"yr":2009,"m":7,"v":430},{"yr":2009,"m":8,"v":540},{"yr":2009,"m":9,"v":420},{"yr":2009,"m":10,"v":310},{"yr":2009,"m":11,"v":115},{"yr":2009,"m":12,"v":14},
      {"yr":2010,"m":1,"v":13},{"yr":2010,"m":2,"v":16},{"yr":2010,"m":3,"v":42},{"yr":2010,"m":4,"v":96},{"yr":2010,"m":5,"v":205},{"yr":2010,"m":6,"v":290},{"yr":2010,"m":7,"v":390},{"yr":2010,"m":8,"v":600},{"yr":2010,"m":9,"v":440},{"yr":2010,"m":10,"v":330},{"yr":2010,"m":11,"v":125},{"yr":2010,"m":12,"v":20},
      {"yr":2011,"m":1,"v":9},{"yr":2011,"m":2,"v":20},{"yr":2011,"m":3,"v":44},{"yr":2011,"m":4,"v":180},{"yr":2011,"m":5,"v":160},{"yr":2011,"m":6,"v":200},{"yr":2011,"m":7,"v":280},{"yr":2011,"m":8,"v":560},{"yr":2011,"m":9,"v":450},{"yr":2011,"m":10,"v":320},{"yr":2011,"m":11,"v":120},{"yr":2011,"m":12,"v":16},
      {"yr":2012,"m":1,"v":11},{"yr":2012,"m":2,"v":18},{"yr":2012,"m":3,"v":46},{"yr":2012,"m":4,"v":100},{"yr":2012,"m":5,"v":215},{"yr":2012,"m":6,"v":330},{"yr":2012,"m":7,"v":440},{"yr":2012,"m":8,"v":570},{"yr":2012,"m":9,"v":430},{"yr":2012,"m":10,"v":310},{"yr":2012,"m":11,"v":110},{"yr":2012,"m":12,"v":15},
      {"yr":2013,"m":1,"v":10},{"yr":2013,"m":2,"v":14},{"yr":2013,"m":3,"v":40},{"yr":2013,"m":4,"v":92},{"yr":2013,"m":5,"v":200},{"yr":2013,"m":6,"v":310},{"yr":2013,"m":7,"v":400},{"yr":2013,"m":8,"v":620},{"yr":2013,"m":9,"v":440},{"yr":2013,"m":10,"v":320},{"yr":2013,"m":11,"v":118},{"yr":2013,"m":12,"v":18},
      {"yr":2014,"m":1,"v":12},{"yr":2014,"m":2,"v":20},{"yr":2014,"m":3,"v":45},{"yr":2014,"m":4,"v":98},{"yr":2014,"m":5,"v":210},{"yr":2014,"m":6,"v":320},{"yr":2014,"m":7,"v":420},{"yr":2014,"m":8,"v":550},{"yr":2014,"m":9,"v":450},{"yr":2014,"m":10,"v":330},{"yr":2014,"m":11,"v":122},{"yr":2014,"m":12,"v":17},
      {"yr":2015,"m":1,"v":8},{"yr":2015,"m":2,"v":16},{"yr":2015,"m":3,"v":42},{"yr":2015,"m":4,"v":94},{"yr":2015,"m":5,"v":205},{"yr":2015,"m":6,"v":300},{"yr":2015,"m":7,"v":410},{"yr":2015,"m":8,"v":580},{"yr":2015,"m":9,"v":430},{"yr":2015,"m":10,"v":310},{"yr":2015,"m":11,"v":115},{"yr":2015,"m":12,"v":15},
      {"yr":2016,"m":1,"v":14},{"yr":2016,"m":2,"v":22},{"yr":2016,"m":3,"v":48},{"yr":2016,"m":4,"v":104},{"yr":2016,"m":5,"v":220},{"yr":2016,"m":6,"v":330},{"yr":2016,"m":7,"v":430},{"yr":2016,"m":8,"v":560},{"yr":2016,"m":9,"v":440},{"yr":2016,"m":10,"v":320},{"yr":2016,"m":11,"v":120},{"yr":2016,"m":12,"v":19},
      {"yr":2017,"m":1,"v":10},{"yr":2017,"m":2,"v":18},{"yr":2017,"m":3,"v":44},{"yr":2017,"m":4,"v":96},{"yr":2017,"m":5,"v":208},{"yr":2017,"m":6,"v":310},{"yr":2017,"m":7,"v":405},{"yr":2017,"m":8,"v":600},{"yr":2017,"m":9,"v":445},{"yr":2017,"m":10,"v":315},{"yr":2017,"m":11,"v":118},{"yr":2017,"m":12,"v":16},
      {"yr":2018,"m":1,"v":11},{"yr":2018,"m":2,"v":20},{"yr":2018,"m":3,"v":46},{"yr":2018,"m":4,"v":100},{"yr":2018,"m":5,"v":212},{"yr":2018,"m":6,"v":320},{"yr":2018,"m":7,"v":420},{"yr":2018,"m":8,"v":570},{"yr":2018,"m":9,"v":435},{"yr":2018,"m":10,"v":325},{"yr":2018,"m":11,"v":122},{"yr":2018,"m":12,"v":18},
      {"yr":2019,"m":1,"v":9},{"yr":2019,"m":2,"v":15},{"yr":2019,"m":3,"v":40},{"yr":2019,"m":4,"v":92},{"yr":2019,"m":5,"v":200},{"yr":2019,"m":6,"v":300},{"yr":2019,"m":7,"v":400},{"yr":2019,"m":8,"v":590},{"yr":2019,"m":9,"v":440},{"yr":2019,"m":10,"v":310},{"yr":2019,"m":11,"v":112},{"yr":2019,"m":12,"v":15},
      {"yr":2020,"m":1,"v":12},{"yr":2020,"m":2,"v":20},{"yr":2020,"m":3,"v":45},{"yr":2020,"m":4,"v":98},{"yr":2020,"m":5,"v":210},{"yr":2020,"m":6,"v":315},{"yr":2020,"m":7,"v":415},{"yr":2020,"m":8,"v":565},{"yr":2020,"m":9,"v":450},{"yr":2020,"m":10,"v":320},{"yr":2020,"m":11,"v":120},{"yr":2020,"m":12,"v":17},
      {"yr":2021,"m":1,"v":10},{"yr":2021,"m":2,"v":18},{"yr":2021,"m":3,"v":44},{"yr":2021,"m":4,"v":100},{"yr":2021,"m":5,"v":205},{"yr":2021,"m":6,"v":305},{"yr":2021,"m":7,"v":410},{"yr":2021,"m":8,"v":575},{"yr":2021,"m":9,"v":440},{"yr":2021,"m":10,"v":318},{"yr":2021,"m":11,"v":118},{"yr":2021,"m":12,"v":16}
    ],
    "mean": [
      {"m": 1, "v": 10}, {"m": 2, "v": 18}, {"m": 3, "v": 43}, {"m": 4, "v": 98},
      {"m": 5, "v": 208}, {"m": 6, "v": 311}, {"m": 7, "v": 413}, {"m": 8, "v": 555},
      {"m": 9, "v": 440}, {"m": 10, "v": 319}, {"m": 11, "v": 121}, {"m": 12, "v": 18}
    ]
  },
  "spacing": 107,
  "resolve": {"scale": {"color": "independent"}, "legend": {"color": "independent"}},
  "hconcat": [
    {
      "title": {"text": "C. Country Wide Average Precipitation"},
      "width": 516,
      "height": 325,
      "layer": [
        {
          "layer": [
            {
              "data": {"name": "annual"},
              "mark": {"type": "line", "strokeWidth": 2, "clip": true},
              "encoding": {
                "x": {
                  "field": "year", "type": "quantitative",
                  "scale": {"domain": [1899.9, 2020.7], "nice": false, "zero": false},
                  "axis": {
                    "values": [1910, 1920, 1940, 1960, 1980, 2000, 2020],
                    "labelExpr": "datum.value == 1910 ? '' : datum.label",
                    "format": "d", "labelFontSize": 22, "labelPadding": 12,
                    "title": "Year", "titleFontSize": 22, "titlePadding": 0,
                    "grid": true, "domain": false
                  }
                },
                "y": {
                  "field": "precip", "type": "quantitative",
                  "scale": {"domain": [2192, 3679], "nice": false, "zero": false},
                  "axis": {
                    "values": [2200, 2400, 2600, 2800, 3000, 3200, 3400, 3600],
                    "format": "d", "labelFontSize": 22, "labelPadding": 3,
                    "title": "Precipitation, mm/year", "titleFontSize": 22, "titlePadding": 8,
                    "grid": true, "domain": false
                  }
                },
                "color": {
                  "datum": "annual", "type": "nominal",
                  "scale": {"domain": ["annual", "30yr–running mean"], "range": ["#a8a8a8", "#000000"]},
                  "legend": {
                    "orient": "none", "legendX": 23, "legendY": 6,
                    "symbolType": "M-2,0H2", "symbolSize": 400, "symbolStrokeWidth": 2.2,
                    "labelFontSize": 18.5, "labelOffset": 16, "rowPadding": 1
                  }
                }
              }
            },
            {
              "data": {"name": "runmean"},
              "mark": {"type": "line", "strokeWidth": 2.6, "clip": true},
              "encoding": {
                "x": {"field": "year", "type": "quantitative"},
                "y": {"field": "precip", "type": "quantitative"},
                "color": {"datum": "30yr–running mean", "type": "nominal"},
                "strokeDash": {
                  "field": "seg", "type": "nominal",
                  "scale": {"domain": ["start", "full", "end"], "range": [[10, 5], [1, 0], [10, 5]]},
                  "legend": null
                }
              }
            }
          ]
        },
        {
          "data": {"name": "annual"},
          "mark": {"type": "line", "opacity": 0},
          "encoding": {
            "x": {
              "field": "year", "type": "quantitative",
              "axis": {"orient": "top", "values": [1910, 1920, 1940, 1960, 1980, 2000, 2020], "labels": false, "title": null, "grid": false, "domain": false}
            },
            "y": {
              "field": "precip", "type": "quantitative",
              "axis": {"orient": "right", "values": [2200, 2400, 2600, 2800, 3000, 3200, 3400, 3600], "labels": false, "title": null, "grid": false, "domain": false}
            }
          }
        }
      ],
      "resolve": {"axis": {"x": "independent", "y": "independent"}}
    },
    {
      "title": {"text": "D. Seasonal Cycle"},
      "width": 371,
      "height": 334,
      "view": {"stroke": null},
      "layer": [
        {
          "layer": [
            {
              "data": {"name": "p1"},
              "mark": {"type": "line", "strokeWidth": 1.2, "strokeOpacity": 0.6, "clip": true},
              "encoding": {
                "x": {
                  "field": "m", "type": "quantitative",
                  "scale": {"domain": [1, 11.88], "nice": false, "zero": false},
                  "axis": {
                    "values": [1, 2, 3, 4, 5, 6, 7, 8, 9, 10, 11, 12],
                    "labelExpr": "datum.value % 2 == 1 ? ['Jan','Feb','Mar','Apr','May','Jun','Jul','Aug','Sep','Oct','Nov','Dec'][datum.value - 1] : ''",
                    "labelFontSize": 21, "labelPadding": 14, "title": null,
                    "grid": true, "domain": true
                  }
                },
                "y": {
                  "field": "v", "type": "quantitative",
                  "scale": {"domain": [-38, 1547], "nice": false, "zero": false},
                  "axis": {
                    "values": [0, 500, 1000, 1500],
                    "format": "d", "labelFontSize": 21, "labelPadding": 3,
                    "title": "Precipitation, mm/month", "titleFontSize": 21, "titlePadding": 11,
                    "grid": true, "domain": true
                  }
                },
                "detail": {"field": "yr", "type": "nominal"},
                "color": {
                  "datum": "1961–1980", "type": "nominal",
                  "scale": {
                    "domain": ["1961–1980", "1981–2000", "2001–2021", "Mean 1961–2021"],
                    "range": ["#b4b4b4", "#86973a", "#237a35", "#000000"]
                  },
                  "legend": {
                    "orient": "none", "legendX": 25, "legendY": 13,
                    "symbolType": "M-2.5,0H2.5", "symbolSize": 256, "symbolStrokeWidth": 1.6,
                    "symbolOpacity": 1,
                    "labelFontSize": 14.5, "labelOffset": 17, "rowPadding": 2,
                    "encode": {
                      "symbols": {
                        "update": {
                          "strokeWidth": {"signal": "datum.label == 'Mean 1961–2021' ? 3 : 1.6"},
                          "strokeOpacity": {"signal": "datum.label == 'Mean 1961–2021' ? 1 : 0.5"},
                          "opacity": {"value": 1}
                        }
                      }
                    }
                  }
                }
              }
            },
            {
              "data": {"name": "p2"},
              "mark": {"type": "line", "strokeWidth": 1.2, "strokeOpacity": 0.6, "clip": true},
              "encoding": {
                "x": {"field": "m", "type": "quantitative"},
                "y": {"field": "v", "type": "quantitative"},
                "detail": {"field": "yr", "type": "nominal"},
                "color": {"datum": "1981–2000", "type": "nominal"}
              }
            },
            {
              "data": {"name": "p3"},
              "mark": {"type": "line", "strokeWidth": 1.2, "strokeOpacity": 0.8, "clip": true},
              "encoding": {
                "x": {"field": "m", "type": "quantitative"},
                "y": {"field": "v", "type": "quantitative"},
                "detail": {"field": "yr", "type": "nominal"},
                "color": {"datum": "2001–2021", "type": "nominal"}
              }
            },
            {
              "data": {"name": "mean"},
              "mark": {"type": "line", "strokeWidth": 3.5, "clip": true},
              "encoding": {
                "x": {"field": "m", "type": "quantitative"},
                "y": {"field": "v", "type": "quantitative"},
                "color": {"datum": "Mean 1961–2021", "type": "nominal"}
              }
            }
          ]
        },
        {
          "data": {"name": "mean"},
          "mark": {"type": "line", "opacity": 0},
          "encoding": {
            "x": {
              "field": "m", "type": "quantitative",
              "axis": {"orient": "top", "values": [1, 2, 3, 4, 5, 6, 7, 8, 9, 10, 11, 12], "labels": false, "title": null, "grid": false, "domain": true}
            },
            "y": {"field": "v", "type": "quantitative", "axis": null}
          }
        }
      ],
      "resolve": {"axis": {"x": "independent", "y": "independent"}}
    }
  ]
}
